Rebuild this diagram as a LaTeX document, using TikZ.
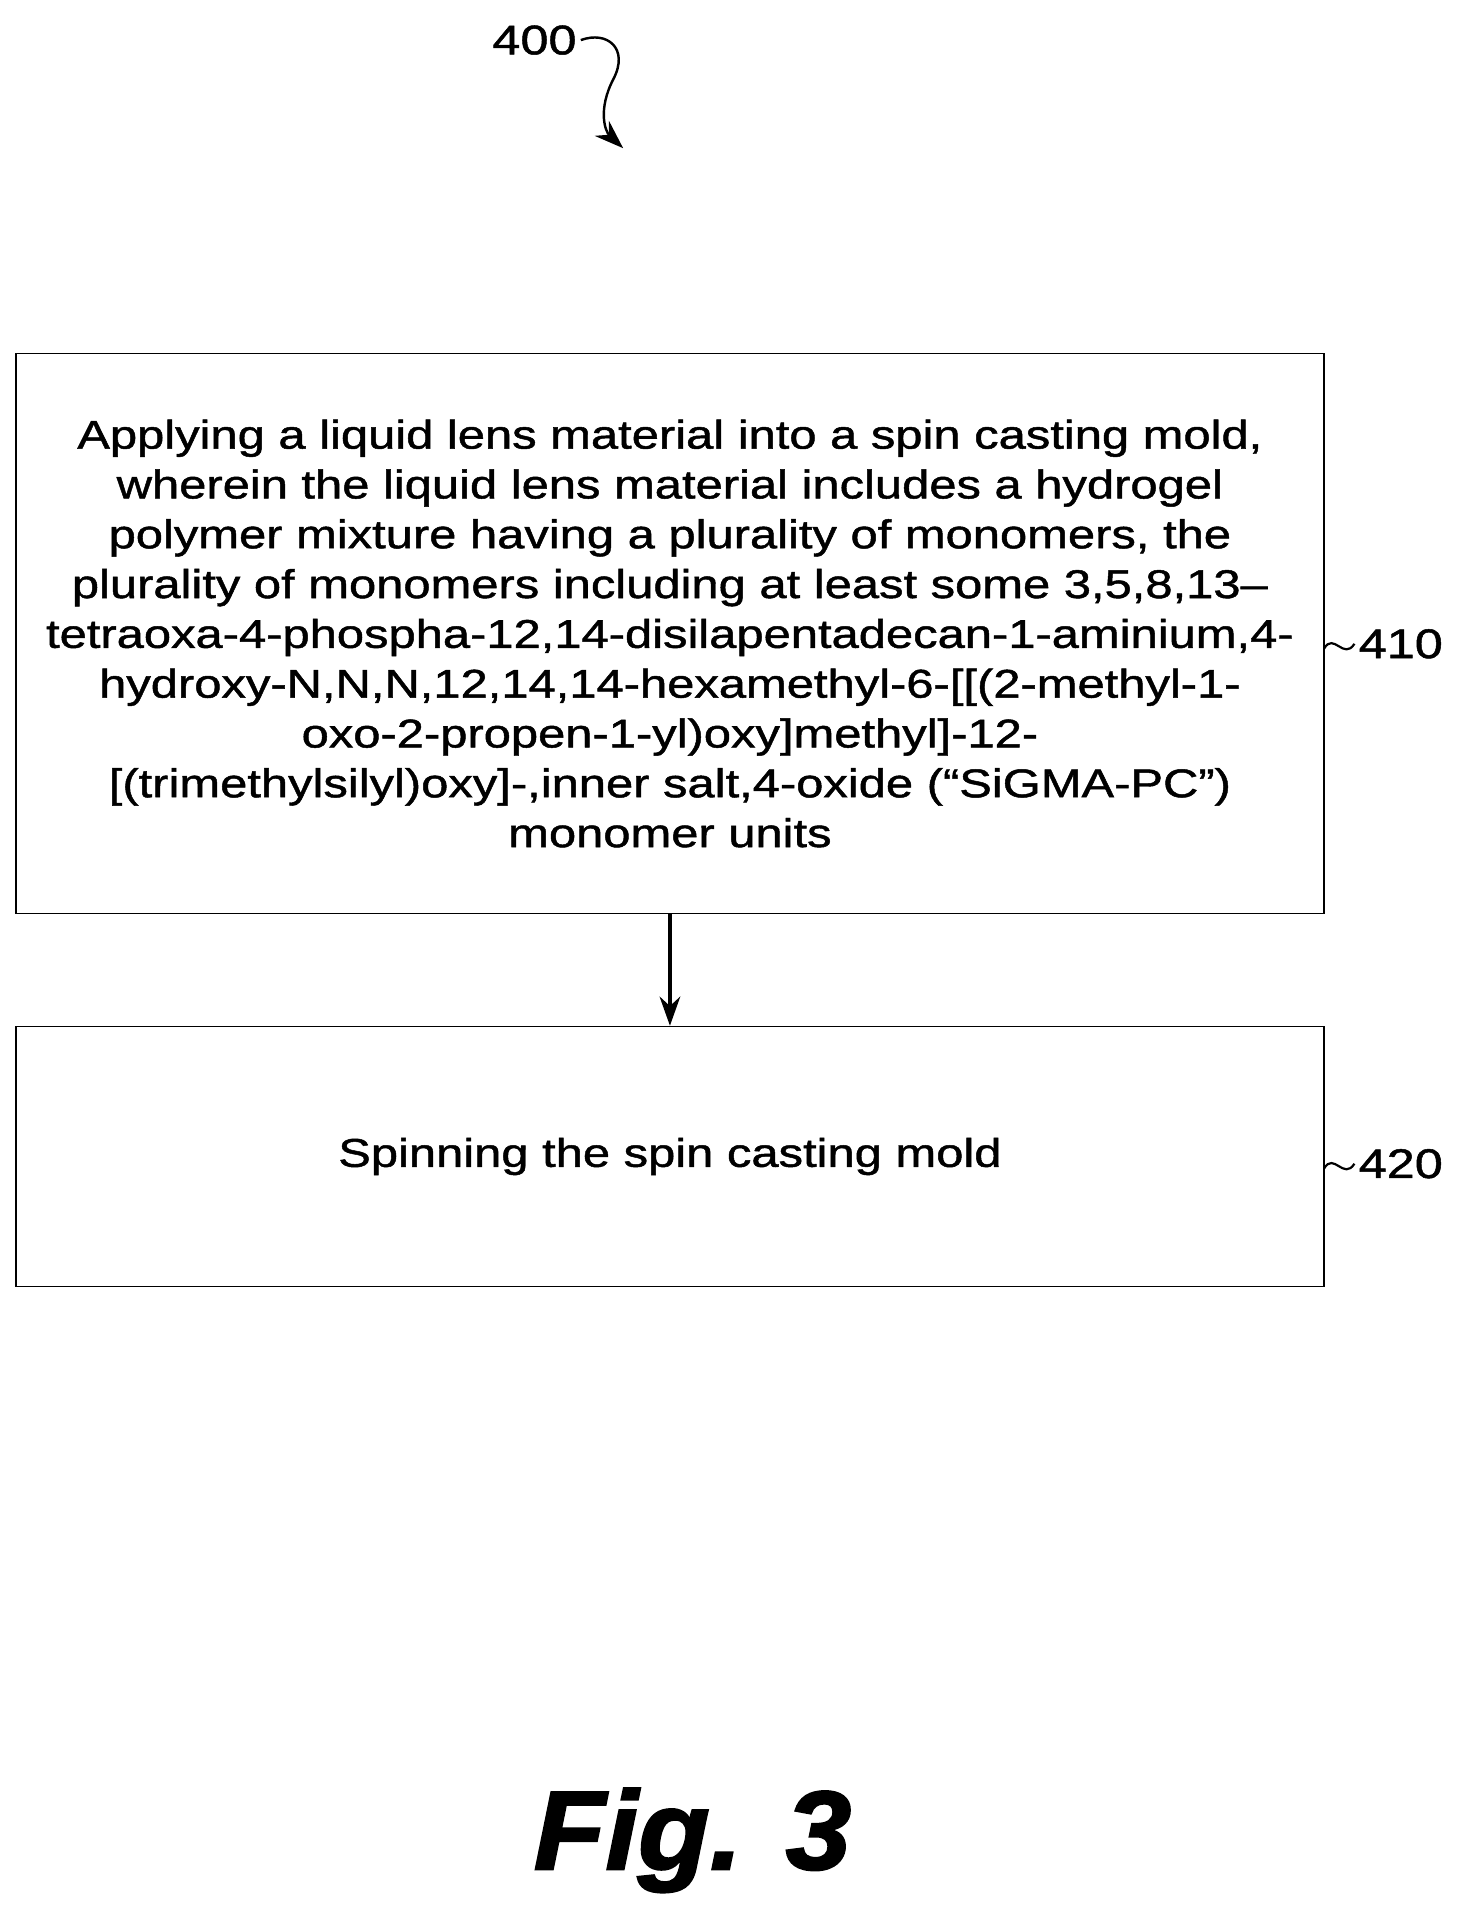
\documentclass[tikz,border=0pt]{standalone}
\usepackage{fontspec}
\setmainfont{Liberation Sans}[FakeStretch=1.22, FakeBold=1.2]
\newfontfamily\figfont{Liberation Sans}[FakeStretch=1.05, FakeBold=2]
\usetikzlibrary{positioning,arrows.meta}
\tikzset{
  stepbox/.style={draw, line width=1.2pt, minimum width=1077pt, align=center, inner sep=0pt,
    font=\fontsize{33}{41}\selectfont},
  ref/.style={font=\fontsize{34}{40}\selectfont, anchor=west},
  tip/.style={-{Stealth[length=24pt,width=17pt]}, line width=2.6pt}
}
\begin{document}
\begin{tikzpicture}[x=1pt,y=-1pt]
      \useasboundingbox (0,0) rectangle (1210,1574);

      % the two steps
      \node[stepbox, minimum height=461pt] (s410) at (551.5,521.5) {Applying a liquid lens material into a spin casting mold,\\
wherein the liquid lens material includes a hydrogel\\
polymer mixture having a plurality of monomers, the\\
plurality of monomers including at least some 3,5,8,13--\\
tetraoxa-4-phospha-12,14-disilapentadecan-1-aminium,4-\\
hydroxy-N,N,N,12,14,14-hexamethyl-6-[[(2-methyl-1-\\
oxo-2-propen-1-yl)oxy]methyl]-12-\\
{[}(trimethylsilyl)oxy]-,inner salt,4-oxide (“SiGMA-PC”)\\
monomer units};
      \node[stepbox, minimum height=214pt] (s420) at (551.5,952) {Spinning the spin casting mold};

      \draw[tip] (s410) -- (s420);

      % reference numerals
      \node[ref] (n410) at (1115,530) {410};
      \node[ref] (n420) at (1115,958) {420};
      \draw[line width=1.8pt] (1090,534) .. controls (1098,520) and (1106,544) .. (n410.west);
      \draw[line width=1.8pt] (1090,962) .. controls (1098,948) and (1106,972) .. (n420.west);

      \node[font=\fontsize{34}{40}\selectfont] (n400) at (440,33) {400};
      \coordinate (tip400) at (513,122);
      \draw[tip, line width=2pt] (n400.east)
        .. controls (500,25) and (518,40) .. (505,65)
        .. controls (492,90) and (498,108) .. (tip400);

      \node[font=\figfont\bfseries\itshape\fontsize{92}{92}\selectfont] (fig) at (570,1515) {Fig. 3};
\end{tikzpicture}
\end{document}
